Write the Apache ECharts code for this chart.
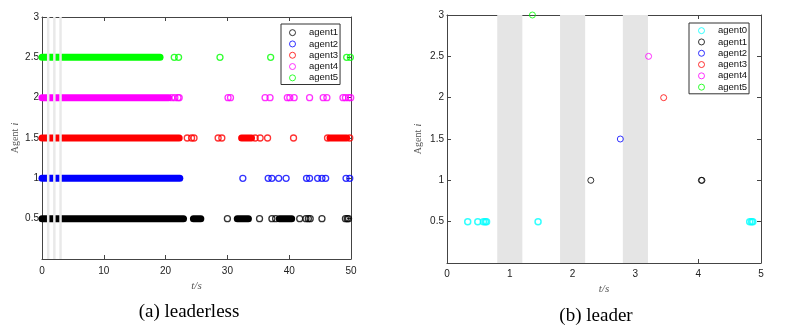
<!DOCTYPE html>
<html>
<head>
<meta charset="utf-8">
<script src="https://cdn.jsdelivr.net/npm/echarts@6/dist/echarts.min.js"></script>
<style>
  html, body { margin: 0; padding: 0; background: #fff; }
  #chart { width: 787px; height: 332px; }
</style>
</head>
<body>
<div id="chart"></div>
<script>
// (a) leaderless: dense trigger runs [start, end] and single trigger times, per agent
const leftNames = ['agent1', 'agent2', 'agent3', 'agent4', 'agent5']
const leftRows = [0.5, 1, 1.5, 2, 2.5]
const leftColors = ['#000000', '#0000ff', '#ff0000', '#ff00ff', '#00ff00']

const a1Dense = [[0, 22.9], [24.5, 25.7], [31.6, 33.4], [38.4, 40.4]]
const a1Events = [30.0, 35.2, 37.2, 37.8, 41.7, 42.7, 43.1, 43.4, 45.3, 49.1, 49.4, 49.6]
const a2Dense = [[0, 22.3]]
const a2Events = [32.5, 36.6, 37.2, 38.3, 39.5, 42.8, 43.3, 44.6, 45.3, 45.9, 49.2, 49.8]
const a3Dense = [[0, 22.2], [32.3, 33.9], [46.6, 49.3]]
const a3Events = [23.5, 24.2, 24.6, 28.5, 29.1, 34.5, 35.3, 36.5, 40.7, 46.2, 49.8]
const a4Dense = [[0, 20.5]]
const a4Events = [21.0, 21.5, 22.0, 22.2, 30.1, 30.5, 36.1, 36.9, 39.7, 40.1, 40.8, 43.3, 45.5, 46.1, 48.7, 49.1, 49.6, 49.95]
const a5Dense = [[0, 19.1]]
const a5Events = [21.4, 22.1, 28.8, 37.0, 49.3, 49.9]

const leftDense = [a1Dense, a2Dense, a3Dense, a4Dense, a5Dense]
const leftEvents = [a1Events, a2Events, a3Events, a4Events, a5Events]

// (b) leader
const rightNames = ['agent0', 'agent1', 'agent2', 'agent3', 'agent4', 'agent5']
const rightRows = [0.5, 1, 1.5, 2, 2.5, 3]
const rightColors = ['#00ffff', '#000000', '#0000ff', '#ff0000', '#ff00ff', '#00ff00']
const b0Events = [0.33, 0.49, 0.58, 0.61, 0.63, 1.45, 4.82, 4.85, 4.87]
const b1Events = [2.29, 4.05, 4.06]
const b2Events = [2.76]
const b3Events = [3.45]
const b4Events = [3.21]
const b5Events = [1.36]
const rightEvents = [b0Events, b1Events, b2Events, b3Events, b4Events, b5Events]

// shaded intervals (both panels)
const bands = [[0.8, 1.2], [1.8, 2.2], [2.8, 3.2]]

const leftXTicks = { min: 0, max: 50, interval: 10 }
const rightXTicks = { min: 0, max: 5, interval: 1 }
const yTicks = { min: 0, max: 3, interval: 0.5 }

const axisColor = '#444'
const tickFont = 'Liberation Sans'

function makeAxis(gridIndex, range, position, showLabel, margin) {
  return {
    type: 'value',
    gridIndex,
    position,
    min: range.min,
    max: range.max,
    interval: range.interval,
    axisLine: { show: true, onZero: false, lineStyle: { color: axisColor, width: 1 } },
    axisTick: { show: true, inside: true, length: 4, lineStyle: { color: axisColor } },
    splitLine: { show: false },
    axisLabel: {
      show: showLabel,
      margin,
      color: '#222',
      fontSize: 10,
      fontFamily: tickFont
    }
  }
}

const xAxes = [
  Object.assign(makeAxis(0, leftXTicks, 'bottom', true, 7), {
    name: 't/s', nameLocation: 'middle', nameGap: 18,
    nameTextStyle: { fontFamily: 'Liberation Serif', fontStyle: 'italic', fontSize: 11, color: '#555' }
  }),
  makeAxis(0, leftXTicks, 'top', false, 0),
  Object.assign(makeAxis(1, rightXTicks, 'bottom', true, 6), {
    name: 't/s', nameLocation: 'middle', nameGap: 18,
    nameTextStyle: { fontFamily: 'Liberation Serif', fontStyle: 'italic', fontSize: 11, color: '#555' }
  }),
  makeAxis(1, rightXTicks, 'top', false, 0)
]

const yName = {
  name: '{n|Agent} {i|i}',
  nameLocation: 'middle',
  nameTextStyle: {
    rich: {
      n: { fontFamily: 'Liberation Serif', fontSize: 10, color: '#555' },
      i: { fontFamily: 'Liberation Serif', fontStyle: 'italic', fontSize: 10, color: '#555' }
    }
  }
}

function yLeft(gridIndex, gap) {
  const ax = Object.assign(makeAxis(gridIndex, yTicks, 'left', true, 3), yName, { nameGap: gap })
  ax.axisLabel.formatter = v => (v === 0 ? '' : String(v))
  return ax
}

const yAxes = [
  yLeft(0, 19),
  makeAxis(0, yTicks, 'right', false, 0),
  yLeft(1, 23),
  makeAxis(1, yTicks, 'right', false, 0)
]

const series = []

// left panel: dense runs as thick round-capped strokes, sparse triggers as open circles
leftNames.forEach((name, i) => {
  const y = leftRows[i]
  leftDense[i].forEach(seg => {
    series.push({
      type: 'line',
      name: name + '-run',
      xAxisIndex: 0,
      yAxisIndex: 0,
      data: [[seg[0], y], [seg[1], y]],
      symbol: 'none',
      silent: true,
      clip: false,
      lineStyle: { width: 7, color: leftColors[i], cap: 'round' },
      z: 2
    })
  })
  series.push({
    type: 'scatter',
    name,
    xAxisIndex: 0,
    yAxisIndex: 0,
    data: leftEvents[i].map(t => [t, y]),
    symbol: 'circle',
    symbolSize: 6,
    clip: false,
    itemStyle: { color: 'rgba(0,0,0,0)', borderColor: leftColors[i], borderWidth: 1.3 },
    z: 2
  })
})

// left panel bands sit on top of the marks
series.push({
  type: 'scatter',
  name: 'bandsA',
  xAxisIndex: 0,
  yAxisIndex: 0,
  data: [],
  silent: true,
  z: 5,
  markArea: {
    silent: true,
    z: 5,
    itemStyle: { color: '#e9e9e9' },
    data: bands.map(b => [{ xAxis: b[0] }, { xAxis: b[1] }])
  }
})

// right panel bands under the marks
series.push({
  type: 'scatter',
  name: 'bandsB',
  xAxisIndex: 2,
  yAxisIndex: 2,
  data: [],
  silent: true,
  z: 1,
  markArea: {
    silent: true,
    z: 1,
    itemStyle: { color: '#e5e5e5' },
    data: bands.map(b => [{ xAxis: b[0] }, { xAxis: b[1] }])
  }
})

rightNames.forEach((name, i) => {
  const y = rightRows[i]
  series.push({
    type: 'scatter',
    name,
    xAxisIndex: 2,
    yAxisIndex: 2,
    data: rightEvents[i].map(t => [t, y]),
    symbol: 'circle',
    symbolSize: 6,
    clip: false,
    itemStyle: { color: 'rgba(0,0,0,0)', borderColor: rightColors[i], borderWidth: i === 0 ? 1.5 : 1 },
    z: 3
  })
})

function legendItems(names, colors) {
  return names.map((n, i) => ({
    name: n,
    icon: 'circle',
    itemStyle: { color: 'rgba(0,0,0,0)', borderColor: colors[i], borderWidth: 1 }
  }))
}

const legendBase = {
  orient: 'vertical',
  itemWidth: 15,
  itemHeight: 6,
  itemGap: 0,
  borderColor: '#333',
  borderWidth: 1,
  selectedMode: false,
  textStyle: { fontFamily: tickFont, fontSize: 9.5, color: '#111', lineHeight: 11.3, padding: [0, 0, 0, 4] }
}

const chart = echarts.init(document.getElementById('chart'))
chart.setOption({
  animation: false,
  backgroundColor: '#fff',
  grid: [
    { left: 42, top: 17, width: 309, height: 242 },
    { left: 447, top: 15, width: 314, height: 248 }
  ],
  xAxis: xAxes,
  yAxis: yAxes,
  legend: [
    Object.assign({}, legendBase, {
      left: 281, top: 24, padding: [3, 2, 1, 8],
      data: legendItems(leftNames, leftColors)
    }),
    Object.assign({}, legendBase, {
      left: 689, top: 23, padding: [2, 2, 1, 9],
      data: legendItems(rightNames, rightColors)
    })
  ],
  graphic: [
    {
      type: 'text', x: 189, y: 312,
      style: { text: '(a) leaderless', font: '19px "Liberation Serif"', fill: '#000', align: 'center', verticalAlign: 'middle' }
    },
    {
      type: 'text', x: 596, y: 316,
      style: { text: '(b) leader', font: '19px "Liberation Serif"', fill: '#000', align: 'center', verticalAlign: 'middle' }
    }
  ],
  series
})
</script>
</body>
</html>
